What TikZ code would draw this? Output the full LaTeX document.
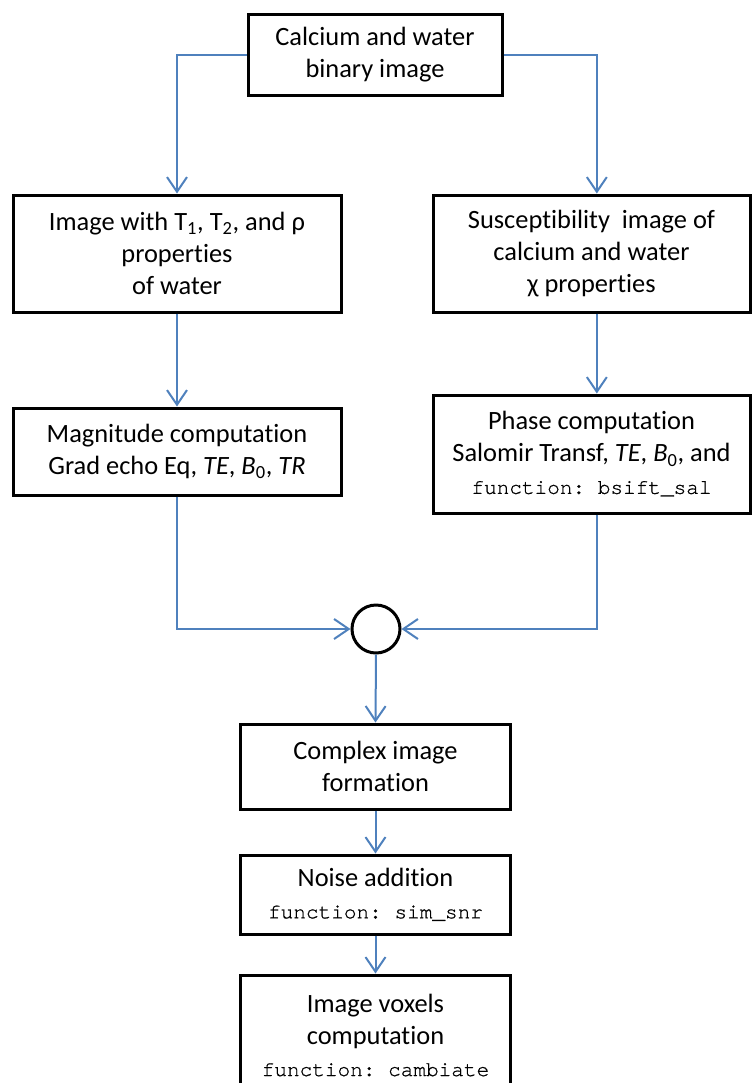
\documentclass[tikz,border=0pt]{standalone}
\usepackage{fontspec}
\setmainfont[Ligatures=NoCommon]{Carlito}
\setmonofont[FakeBold=0.8]{texgyrecursor-regular.otf}
\usetikzlibrary{arrows.meta}

\definecolor{flowblue}{RGB}{79,129,189}
\newcommand{\fnname}[1]{{\ttfamily\fontsize{15.8}{24}\selectfont function: #1}}

\tikzset{every picture/.style={line width=0.75pt}}
\tikzset{
  procbox/.style={draw=black, line width=2.25pt, fill=white, align=center,
    inner sep=0pt, font=\fontsize{19.8}{24}\selectfont},
  joint/.style={draw=black, line width=2.25pt, circle, fill=white,
    minimum size=36pt, inner sep=0pt},
  flow/.style={draw=flowblue, line width=1.5pt,
    -{Straight Barb[length=11pt,width=15pt,line width=1.5pt]}},
}

\begin{document}
\begin{tikzpicture}[x=0.75pt,y=0.75pt,yscale=-1,xscale=1]
\useasboundingbox (0,0) rectangle (751,1083);

% Text Node
\node [procbox, minimum width=190.5pt, minimum height=60.75pt] (binimg) at (375,54.5) {Calcium and water\\binary image};
% Text Node
\node [procbox, minimum width=246pt, minimum height=87.75pt] (waterimg) at (177,253.5) {Image with T\textsubscript{1}, T\textsubscript{2}, and ρ\\properties\\of water};
% Text Node
\node [procbox, minimum width=237.75pt, minimum height=87.75pt] (chiimg) at (591.5,253.5) {Susceptibility\ \ image of\\calcium and water\\χ properties};
% Text Node
\node [procbox, minimum width=246pt, minimum height=65.25pt] (magcomp) at (177,451.5) {Magnitude computation\\Grad echo Eq, \textit{TE}, \textit{B}\textsubscript{0}, \textit{TR}};
% Text Node
\node [procbox, minimum width=237.75pt, minimum height=88.5pt] (phasecomp) at (591.5,454) {Phase computation\\Salomir Transf, \textit{TE}, \textit{B}\textsubscript{0}, and\\\fnname{bsift\_sal}};
% Circle
\node [joint] (sumjoint) at (376,629) {};
% Text Node
\node [procbox, minimum width=202.5pt, minimum height=63.75pt] (cplximg) at (375.5,766.5) {Complex image\\formation};
% Text Node
\node [procbox, minimum width=202.5pt, minimum height=59.25pt] (noiseadd) at (375.5,894.5) {Noise addition\\\fnname{sim\_snr}};
% Text Node
\node [procbox, minimum width=202.5pt, minimum height=90pt] (voxcomp) at (375.5,1035) {Image voxels\\computation\\\fnname{cambiate}};

%Connectors
\draw [flow] (binimg.west) -| (waterimg.north);
\draw [flow] (binimg.east) -| ([xshift=4pt]chiimg.north);
\draw [flow] (waterimg.south) -- (magcomp.north);
\draw [flow] ([xshift=4pt]chiimg.south) -- ([xshift=4pt]phasecomp.north);
\draw [flow] (magcomp.south) |- (sumjoint.west);
\draw [flow] ([xshift=4pt]phasecomp.south) |- (sumjoint.east);
\draw [flow] (sumjoint.south) -- (cplximg.north);
\draw [flow] (cplximg.south) -- (noiseadd.north);
\draw [flow] (noiseadd.south) -- (voxcomp.north);

\end{tikzpicture}
\end{document}
